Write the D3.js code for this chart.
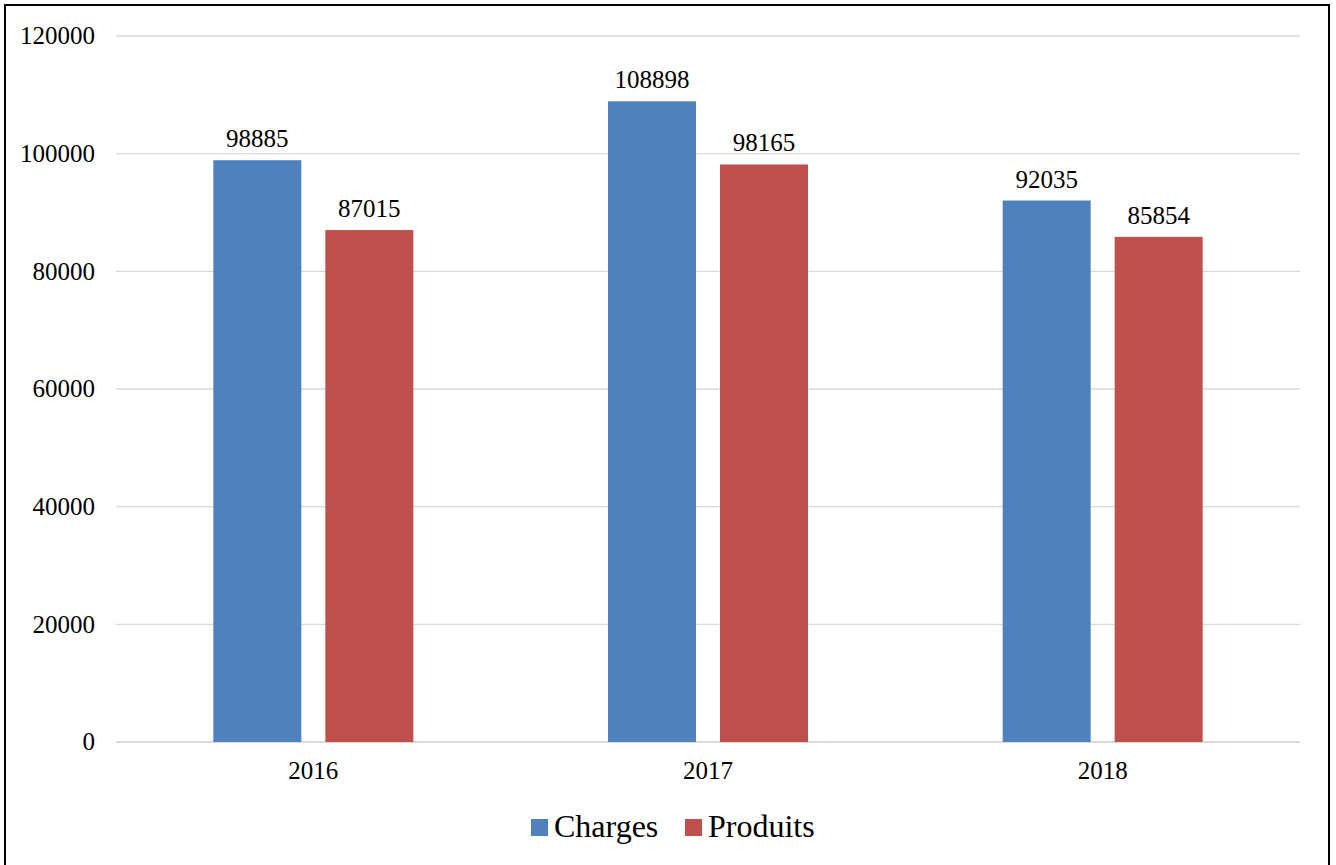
<!DOCTYPE html>
<html>
<head>
<meta charset="utf-8">
<script src="https://cdn.jsdelivr.net/npm/d3@7"></script>
<style>
  html, body { margin: 0; padding: 0; background: #fff; }
  svg { display: block; }
  text { font-family: "Liberation Serif", "Times New Roman", serif; fill: #000; }
</style>
</head>
<body>
<svg id="chart" width="1336" height="865"></svg>
<script>
const categories = ["2016", "2017", "2018"];
const seriesNames = ["Charges", "Produits"];
const charges = [98885, 108898, 92035];
const produits = [87015, 98165, 85854];
const yTicks = [0, 20000, 40000, 60000, 80000, 100000, 120000];
const colors = ["#4f81bd", "#c0504d"];

(function () {
const svg = d3.select("#chart");

// outer border
svg.append("rect").attr("x", 5).attr("y", 5).attr("width", 1324).attr("height", 870)
  .attr("fill", "none").attr("stroke", "#000").attr("stroke-width", 2);

const pLeft = 116, pRight = 1300, pTop = 36, pBottom = 742;
const fs = 25;
const y = d3.scaleLinear().domain([0, 120000]).range([pBottom, pTop]);
const x0 = d3.scaleBand().domain(categories).range([pLeft, pRight]).paddingInner(0).paddingOuter(0);
const groupW = 200;
const x1 = d3.scaleBand().domain(seriesNames).range([0, groupW]).paddingInner(24 / 112).paddingOuter(0);

// gridlines
svg.append("g").selectAll("line").data(yTicks).join("line")
  .attr("x1", pLeft).attr("x2", pRight)
  .attr("y1", d => y(d)).attr("y2", d => y(d))
  .attr("stroke", "#d9d9d9").attr("stroke-width", d => d === 0 ? 2 : 1.3);

// y tick labels
svg.append("g").selectAll("text").data(yTicks).join("text")
  .attr("x", 95).attr("y", d => y(d)).attr("dy", "0.33em")
  .attr("text-anchor", "end").attr("font-size", fs)
  .text(d => d);

const data = categories.map((c, i) => ({ cat: c, vals: [charges[i], produits[i]] }));

const groups = svg.append("g").selectAll("g").data(data).join("g")
  .attr("transform", d => `translate(${x0(d.cat) + x0.bandwidth() / 2 - groupW / 2},0)`);

groups.selectAll("rect").data(d => d.vals.map((v, j) => ({ s: seriesNames[j], v, j }))).join("rect")
  .attr("x", d => x1(d.s)).attr("width", x1.bandwidth())
  .attr("y", d => y(d.v)).attr("height", d => y(0) - y(d.v))
  .attr("fill", d => colors[d.j]);

groups.selectAll("text").data(d => d.vals.map((v, j) => ({ s: seriesNames[j], v, j }))).join("text")
  .attr("x", d => x1(d.s) + x1.bandwidth() / 2).attr("y", d => y(d.v) - 13)
  .attr("text-anchor", "middle").attr("font-size", fs)
  .text(d => d.v);

// category labels
svg.append("g").selectAll("text").data(categories).join("text")
  .attr("x", d => x0(d) + x0.bandwidth() / 2).attr("y", 779)
  .attr("text-anchor", "middle").attr("font-size", fs)
  .text(d => d);

// legend
const legendItems = [{ name: "Charges", x: 531 }, { name: "Produits", x: 685 }];
const lg = svg.append("g").selectAll("g").data(legendItems).join("g");
lg.append("rect").attr("x", d => d.x).attr("y", 819).attr("width", 17).attr("height", 17)
  .attr("fill", (d, i) => colors[i]);
lg.append("text").attr("x", d => d.x + 23).attr("y", 837).attr("font-size", 32)
  .text(d => d.name);
})();
</script>
</body>
</html>
